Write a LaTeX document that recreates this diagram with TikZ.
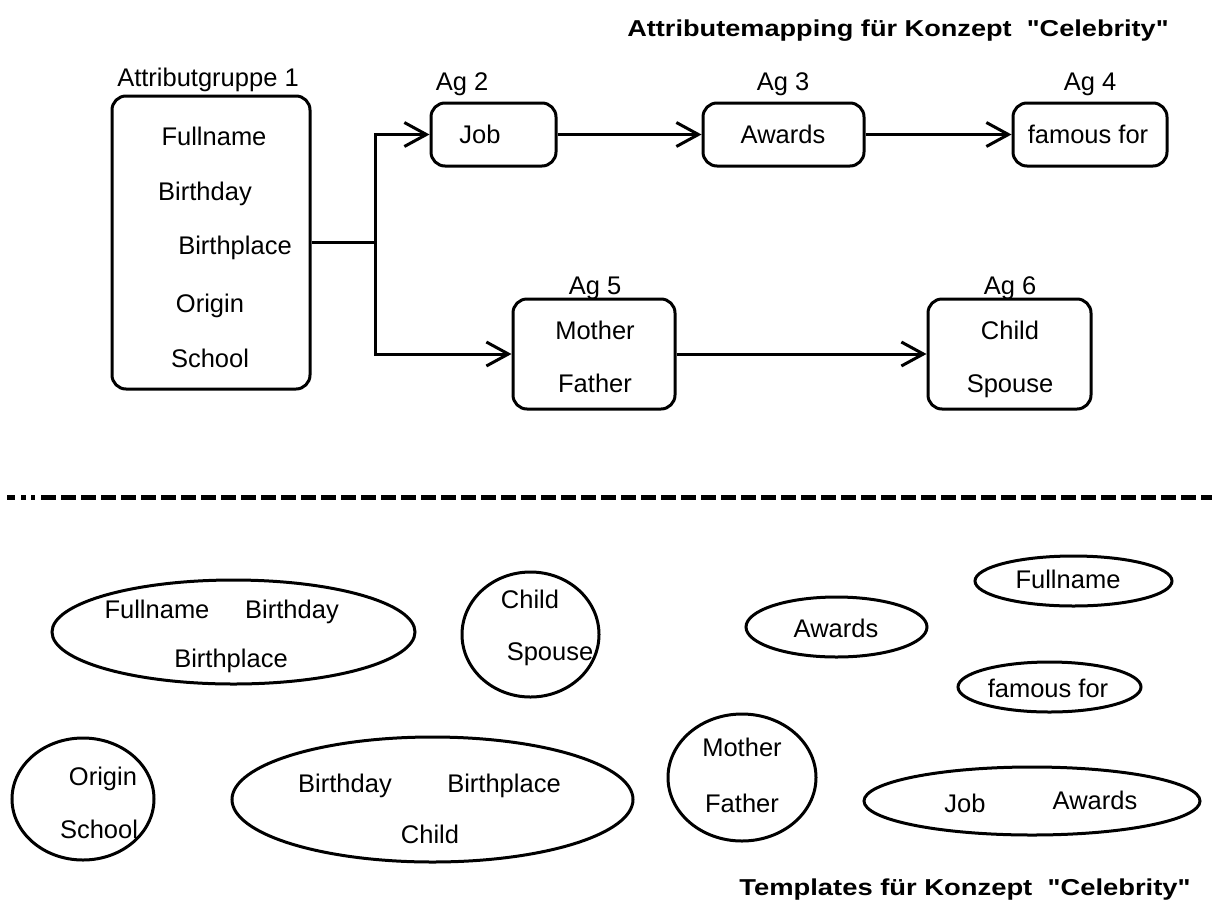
\documentclass[tikz,border=0pt]{standalone}
\usepackage{fontspec}
\usepackage{graphicx}
\setmainfont{Liberation Sans}
% a second face without TeX ligature mapping keeps the straight double quote
\newfontfamily\headfont{Liberation Sans}
\usetikzlibrary{arrows.meta,shapes.geometric}
\begin{document}
\begin{tikzpicture}[x=1pt,y=-1pt,
  every node/.style={inner sep=0pt},
  lbl/.style={font=\fontsize{25.5}{30}\selectfont, anchor=base},
  heading/.style={font=\headfont\fontsize{23}{27}\selectfont\bfseries, anchor=base},
  agbox/.style={draw, line width=3pt, rounded corners=14pt},
  tmpl/.style={draw, ellipse, line width=3pt},
  conn/.style={line width=3pt},
  arr/.style={line width=3pt, -{Straight Barb[length=22pt,width=24pt]}},
  divider/.style={line width=5pt}
]
\useasboundingbox (0,0) rectangle (1212,900);

% ---------- headings ----------
\node[heading] (head-map) at (898,36) {\scalebox{1.18}[1]{Attributemapping für Konzept~~"Celebrity"}};
\node[heading] (head-tpl) at (965,895) {\scalebox{1.19}[1]{Templates für Konzept~~"Celebrity"}};

% ---------- attribute groups ----------
\node[agbox, minimum width=198pt, minimum height=293pt] (g1) at (211,242.5) {};
\node[agbox, minimum width=125pt, minimum height=63pt] (g2) at (493.5,134.5) {};
\node[agbox, minimum width=161pt, minimum height=63pt] (g3) at (783.5,134.5) {};
\node[agbox, minimum width=154pt, minimum height=63pt] (g4) at (1090,134.5) {};
\node[agbox, minimum width=162pt, minimum height=110pt] (g5) at (594,354) {};
\node[agbox, minimum width=163pt, minimum height=110pt] (g6) at (1009.5,354) {};

% group titles
\node[lbl] (g1-title) at (208,86) {Attributgruppe 1};
\node[lbl] (g2-title) at (462,90) {Ag 2};
\node[lbl] (g3-title) at (783,90) {Ag 3};
\node[lbl] (g4-title) at (1090,90) {Ag 4};
\node[lbl] (g5-title) at (595,294) {Ag 5};
\node[lbl] (g6-title) at (1010,294) {Ag 6};

% group contents
\node[lbl] (g1-a) at (214,145) {Fullname};
\node[lbl] (g1-b) at (205,200) {Birthday};
\node[lbl] (g1-c) at (235,254) {Birthplace};
\node[lbl] (g1-d) at (210,312) {Origin};
\node[lbl] (g1-e) at (210,367) {School};
\node[lbl] (g2-a) at (480,143) {Job};
\node[lbl] (g3-a) at (783,143) {Awards};
\node[lbl] (g4-a) at (1088,143) {famous for};
\node[lbl] (g5-a) at (595,339) {Mother};
\node[lbl] (g5-b) at (595,392) {Father};
\node[lbl] (g6-a) at (1010,339) {Child};
\node[lbl] (g6-b) at (1010,392) {Spouse};

% ---------- connectors ----------
\coordinate (split) at (375,242.5);
\draw[conn] (g1.east) -- (split);
\draw[arr] (split) |- (g2.west);
\draw[arr] (split) |- (g5.west);
\draw[arr] (g2) -- (g3);
\draw[arr] (g3) -- (g4);
\draw[arr] (g5) -- (g6);

% ---------- divider ----------
\draw[divider] (7,497.5) -- (15,497.5);
\draw[divider] (21,497.5) -- (26,497.5);
\draw[divider] (31,497.5) -- (35,497.5);
\draw[divider, dash pattern=on 15pt off 5pt] (41,497.5) -- (1212,497.5);

% ---------- templates ----------
\node[tmpl, minimum width=363pt, minimum height=104pt] (t1) at (233.5,632) {};
\node[tmpl, minimum width=137pt, minimum height=125pt] (t2) at (530.5,634.5) {};
\node[tmpl, minimum width=181pt, minimum height=60pt] (t3) at (836.5,627) {};
\node[tmpl, minimum width=197pt, minimum height=50pt] (t4) at (1073.5,581) {};
\node[tmpl, minimum width=183pt, minimum height=50pt] (t5) at (1049.5,687) {};
\node[tmpl, minimum width=142pt, minimum height=122pt] (t6) at (83,799) {};
\node[tmpl, minimum width=401pt, minimum height=125pt] (t7) at (432.5,799.5) {};
\node[tmpl, minimum width=148pt, minimum height=127pt] (t8) at (742,777.5) {};
\node[tmpl, minimum width=336pt, minimum height=68pt] (t9) at (1032,801) {};

\node[lbl] (t1-a) at (157,618) {Fullname};
\node[lbl] (t1-b) at (292,618) {Birthday};
\node[lbl] (t1-c) at (231,667) {Birthplace};
\node[lbl] (t2-a) at (530,608) {Child};
\node[lbl] (t2-b) at (550,660) {Spouse};
\node[lbl] (t3-a) at (836,637) {Awards};
\node[lbl] (t4-a) at (1068,588) {Fullname};
\node[lbl] (t5-a) at (1048,697) {famous for};
\node[lbl] (t6-a) at (103,785) {Origin};
\node[lbl] (t6-b) at (99,838) {School};
\node[lbl] (t7-a) at (345,792) {Birthday};
\node[lbl] (t7-b) at (504,792) {Birthplace};
\node[lbl] (t7-c) at (430,843) {Child};
\node[lbl] (t8-a) at (742,756) {Mother};
\node[lbl] (t8-b) at (742,812) {Father};
\node[lbl] (t9-a) at (965,812) {Job};
\node[lbl] (t9-b) at (1095,809) {Awards};
\end{tikzpicture}
\end{document}
